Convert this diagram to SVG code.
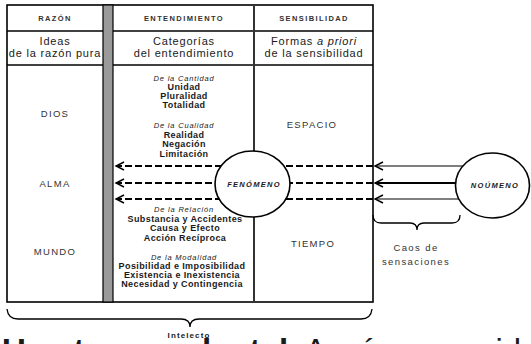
<svg xmlns="http://www.w3.org/2000/svg" width="531" height="344" viewBox="0 0 531 344">
<defs>
<style>
text{font-family:"Liberation Sans",Arial,sans-serif;fill:#1a1a1a;text-anchor:middle}
.hd{font-size:7.5px;font-weight:bold;letter-spacing:1.4px;fill:#333}
.r2{font-size:11px;letter-spacing:0.8px}
.big{font-size:9.5px;letter-spacing:1.3px;fill:#333}
.sub{font-size:7.5px;font-style:italic;letter-spacing:0.8px}
.cat{font-size:9px;font-weight:bold;letter-spacing:0.4px}
.ell{font-size:7.5px;font-style:italic;font-weight:bold;letter-spacing:1.3px}
.cap{font-size:9.5px;letter-spacing:1.4px;fill:#333}
.tl{stroke:#000;stroke-width:1.6;fill:none}
.dash{stroke:#000;stroke-width:2;stroke-dasharray:7 3;fill:none}
.sol{stroke:#555;stroke-width:1.6;fill:none}
.brace{stroke:#000;stroke-width:1.3;fill:none}
</style>
<marker id="chev" markerUnits="userSpaceOnUse" markerWidth="12" markerHeight="12" refX="10" refY="6" orient="auto">
<path d="M2,2 L10,6 L2,10" fill="none" stroke="#000" stroke-width="1.4" stroke-dasharray="none"/>
</marker>
</defs>

<g id="table">
<rect x="7" y="5" width="366" height="297" class="tl"/>
<line x1="7" y1="31" x2="373" y2="31" class="tl"/>
<line x1="7" y1="65" x2="373" y2="65" class="tl"/>
<line x1="254" y1="5" x2="254" y2="302" stroke="#333" stroke-width="2"/>
<rect x="103" y="5" width="10" height="297" fill="#9a9a9a" stroke="#000" stroke-width="1.2"/>
</g>

<g id="col-razon">
<text class="hd" x="55" y="21">RAZÓN</text>
<text class="r2" x="55" y="45">Ideas</text>
<text class="r2" x="55" y="57">de la razón pura</text>
<text class="big" x="55" y="116.5">DIOS</text>
<text class="big" x="55" y="186.5">ALMA</text>
<text class="big" x="55" y="254.5">MUNDO</text>
</g>

<g id="col-entendimiento">
<text class="hd" x="184" y="21">ENTENDIMIENTO</text>
<text class="r2" x="184" y="45">Categorías</text>
<text class="r2" x="184" y="57">del entendimiento</text>
<text class="sub" x="184" y="80.5">De la Cantidad</text>
<text class="cat" x="184" y="90">Unidad</text>
<text class="cat" x="184" y="99">Pluralidad</text>
<text class="cat" x="184" y="108">Totalidad</text>
<text class="sub" x="184" y="127.5">De la Cualidad</text>
<text class="cat" x="184" y="137.5">Realidad</text>
<text class="cat" x="184" y="147">Negación</text>
<text class="cat" x="184" y="156.5">Limitación</text>
<text class="sub" x="184" y="211.5">De la Relación</text>
<text class="cat" x="185" y="222">Substancia y Accidentes</text>
<text class="cat" x="185" y="231">Causa y Efecto</text>
<text class="cat" x="185" y="240.5">Acción Recíproca</text>
<text class="sub" x="184" y="259.5">De la Modalidad</text>
<text class="cat" x="182" y="269">Posibilidad e Imposibilidad</text>
<text class="cat" x="182" y="278">Existencia e Inexistencia</text>
<text class="cat" x="182" y="287">Necesidad y Contingencia</text>
</g>

<g id="col-sensibilidad">
<text class="hd" x="314" y="21">SENSIBILIDAD</text>
<text class="r2" x="314" y="45">Formas <tspan font-style="italic">a priori</tspan></text>
<text class="r2" x="314" y="57">de la sensibilidad</text>
<text class="big" x="312" y="127.5">ESPACIO</text>
<text class="big" x="313" y="246.5">TIEMPO</text>
</g>

<g id="connectors">
<path class="dash" d="M252,166 L116,166" marker-end="url(#chev)"/>
<path class="dash" d="M252,183 L116,183" marker-end="url(#chev)"/>
<path class="dash" d="M252,199 L116,199" marker-end="url(#chev)"/>
<path class="dash" d="M373,166 L252,166"/>
<path class="dash" d="M373,183 L252,183"/>
<path class="dash" d="M373,199 L252,199"/>
<path class="sol" d="M470,166 L375,166" marker-end="url(#chev)"/>
<path d="M470,183 L375,183" stroke="#000" stroke-width="2" fill="none" marker-end="url(#chev)"/>
<path class="sol" d="M470,199 L375,199" marker-end="url(#chev)"/>
</g>

<g id="fenomeno">
<ellipse cx="252.5" cy="184" rx="37.5" ry="33" fill="#fff" stroke="#000" stroke-width="1.6"/>
<text class="ell" x="254" y="186.5">FENÓMENO</text>
</g>

<g id="noumeno">
<ellipse cx="492.5" cy="185.5" rx="37" ry="32.5" fill="#fff" stroke="#000" stroke-width="1.6"/>
<text class="ell" x="495" y="188">NOÚMENO</text>
</g>

<g id="caos">
<path class="brace" d="M373,215 Q373,223 381,223 L410,223 Q417,223 417,230 Q417,223 424,223 L452,223 Q460,223 460,215"/>
<text class="cap" x="416" y="251">Caos de</text>
<text class="cap" x="416" y="265">sensaciones</text>
</g>

<g id="intelecto">
<path class="brace" d="M7,309 Q8,319 18,319 L181,319 Q190,319 190,327 Q190,319 199,319 L361,319 Q371,319 372,309"/>
<text x="189" y="338" font-size="8" font-weight="bold" letter-spacing="1.1" fill="#333">Intelecto</text>
</g>

<text x="2" y="362" font-size="33" style="text-anchor:start" fill="#000"><tspan font-weight="bold">Uso trascendental.</tspan> Aquí se considera</text>
</svg>
